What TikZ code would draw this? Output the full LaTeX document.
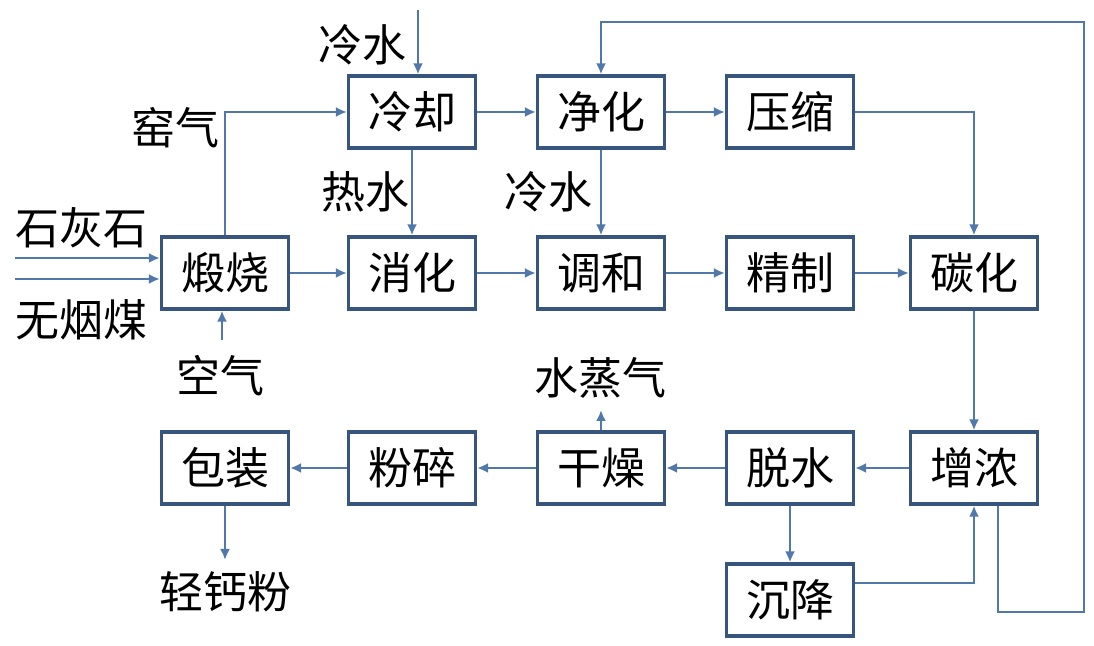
\documentclass[tikz,border=0pt]{standalone}
\usepackage{fontspec}
\setmainfont{Noto Sans CJK SC}
\usetikzlibrary{arrows.meta,positioning,calc}
\definecolor{flowblue}{RGB}{80,120,170}
\definecolor{edgeblue}{RGB}{55,85,125}
\begin{document}
\begin{tikzpicture}[x=0.5pt,y=-0.5pt,
    box/.style={draw=edgeblue,line width=1.6pt,fill=white,minimum width=63.5pt,minimum height=36pt,inner sep=0pt,font=\fontsize{22}{26}\selectfont},
    lbl/.style={font=\fontsize{22}{26}\selectfont,inner sep=0pt},
    flow/.style={draw=flowblue,line width=1.2pt,-{Latex[length=5.5pt,width=5pt]}}]
        \useasboundingbox (0,0) rectangle (1094,646);
        % process boxes
        \foreach \n/\t/\x/\y in {calcine/煅烧/225/273,cool/冷却/412/112,purify/净化/601/112,compress/压缩/790/112,
          slake/消化/412/273,blend/调和/601/273,refine/精制/790/273,carbon/碳化/974/273,
          thicken/增浓/974/468,dewater/脱水/790/468,dry/干燥/601/468,crush/粉碎/412/468,pack/包装/225/468,
          settle/沉降/790/600}
          \node[box] (\n) at (\x,\y) {\t};
        % feed and product labels
        \node[lbl] (coldA) at (362,45) {冷水};
        \node[lbl] (kiln) at (175,128) {窑气};
        \node[lbl] (lime) at (82,228) {石灰石};
        \node[lbl] (coal) at (82,320) {无烟煤};
        \node[lbl] (air) at (220,376) {空气};
        \node[lbl] (hot) at (365,192) {热水};
        \node[lbl] (coldB) at (548,192) {冷水};
        \node[lbl] (steam) at (600,378) {水蒸气};
        \node[lbl] (prod) at (225,592) {轻钙粉};
        \coordinate (coldin) at (418,10);
        \coordinate (limein) at (15,258);
        \coordinate (coalin) at (15,279);
        \coordinate (airin) at (222,340);
        \coordinate (steamout) at (601,410);
        \coordinate (prodout) at (225,560);
        \coordinate (loopA) at (1084,612);
        \coordinate (loopB) at (1084,22);
        % connectors
        \draw[flow] (coldin) -- (coldin |- cool.north);
        \draw[flow] (calcine.north) |- (cool.west);
        \draw[flow] (limein) -- (limein -| calcine.west);
        \draw[flow] (coalin) -- (coalin -| calcine.west);
        \draw[flow] (airin) -- (airin |- calcine.south);
        \draw[flow] (cool) -- (purify);
        \draw[flow] (purify) -- (compress);
        \draw[flow] (compress.east) -| (carbon.north);
        \draw[flow] (cool) -- (slake);
        \draw[flow] (purify) -- (blend);
        \draw[flow] (calcine) -- (slake);
        \draw[flow] (slake) -- (blend);
        \draw[flow] (blend) -- (refine);
        \draw[flow] (refine) -- (carbon);
        \draw[flow] (carbon) -- (thicken);
        \draw[flow] (thicken) -- (dewater);
        \draw[flow] (dewater) -- (dry);
        \draw[flow] (dry) -- (crush);
        \draw[flow] (crush) -- (pack);
        \draw[flow] (dry.north) -- (steamout);
        \draw[flow] (pack.south) -- (prodout);
        \draw[flow] (dewater) -- (settle);
        \draw[flow] ([yshift=8.5pt]settle.east) -| (thicken.south);
        \draw[flow] ([xshift=12pt]thicken.south) |- (loopA) -- (loopB) -| (purify.north);
\end{tikzpicture}
\end{document}
